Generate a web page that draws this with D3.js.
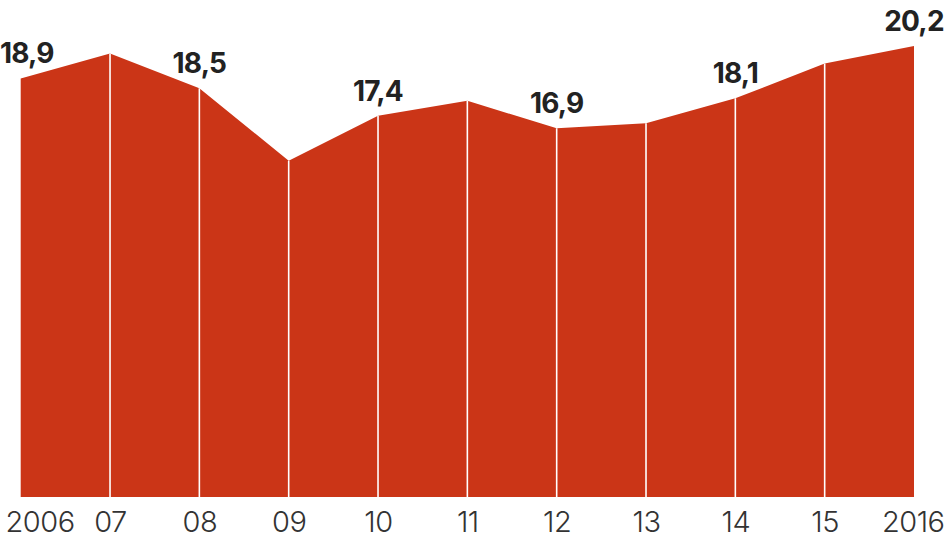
<!DOCTYPE html>
<html><head><meta charset="utf-8">
<script src="https://cdn.jsdelivr.net/npm/d3@7"></script>
<style>
html,body{margin:0;padding:0;background:#fff;}
svg{display:block;}
</style></head>
<body>
<svg id="chart" width="948" height="540"></svg>
<script>
const years = [2006, 2007, 2008, 2009, 2010, 2011, 2012, 2013, 2014, 2015, 2016];
const tickLabels = ["2006", "07", "08", "09", "10", "11", "12", "13", "14", "15", "2016"];
const values = [18.9, 19.9, 18.5, 15.6, 17.4, 18.0, 16.9, 17.1, 18.1, 19.5, 20.2];
const labeledYears = [2006, 2008, 2010, 2012, 2014, 2016];

const svg = d3.select("#chart");
const x = d3.scaleLinear().domain([2006, 2016]).range([20.7, 914]);
const y = d3.scaleLinear().domain([2.1, 20]).range([497, 51]);
const data = years.map((yr, i) => ({year: yr, value: values[i]}));

const area = d3.area().x(d => x(d.year)).y0(y(2.1)).y1(d => y(d.value));
svg.append("path").datum(data).attr("d", area).attr("fill", "#cb3517");

// white separators
svg.selectAll("line.sep").data(data.slice(1, -1)).enter().append("line")
  .attr("x1", d => x(d.year)).attr("x2", d => x(d.year))
  .attr("y1", d => y(d.value)).attr("y2", y(2.1))
  .attr("stroke", "#fff").attr("stroke-width", 1.6);

// value labels
const fmt = v => d3.format(".1f")(v).replace(".", ",");
svg.selectAll("text.val").data(data.filter(d => labeledYears.includes(d.year))).enter().append("text")
  .attr("x", d => d.year === 2006 ? 0 : x(d.year))
  .attr("y", d => y(d.value) - 15)
  .attr("text-anchor", d => d.year === 2006 ? "start" : "middle")
  .attr("font-family", "Inter, 'DejaVu Sans', sans-serif")
  .attr("font-weight", 700)
  .attr("font-size", 28)
  .attr("letter-spacing", -0.8)
  .attr("fill", "#222")
  .text(d => fmt(d.value));

// x axis labels
const axis = d3.axisBottom(x).tickValues(years).tickSize(0).tickPadding(0)
  .tickFormat((d, i) => tickLabels[i]);
const g = svg.append("g").attr("transform", "translate(0,532)").call(axis);
g.select(".domain").remove();
g.selectAll("text")
  .attr("dy", 0).attr("y", 0)
  .attr("font-family", "Inter, 'DejaVu Sans', sans-serif")
  .attr("font-weight", 300)
  .attr("font-size", 29)
  .attr("letter-spacing", -0.5)
  .attr("fill", "#333")
  .attr("text-anchor", (d, i) => i === 0 ? "start" : (i === years.length - 1 ? "end" : "middle"))
  .attr("x", (d, i) => i === 0 ? 5 - x(d) : (i === years.length - 1 ? 944 - x(d) : 0));
</script>
</body></html>
